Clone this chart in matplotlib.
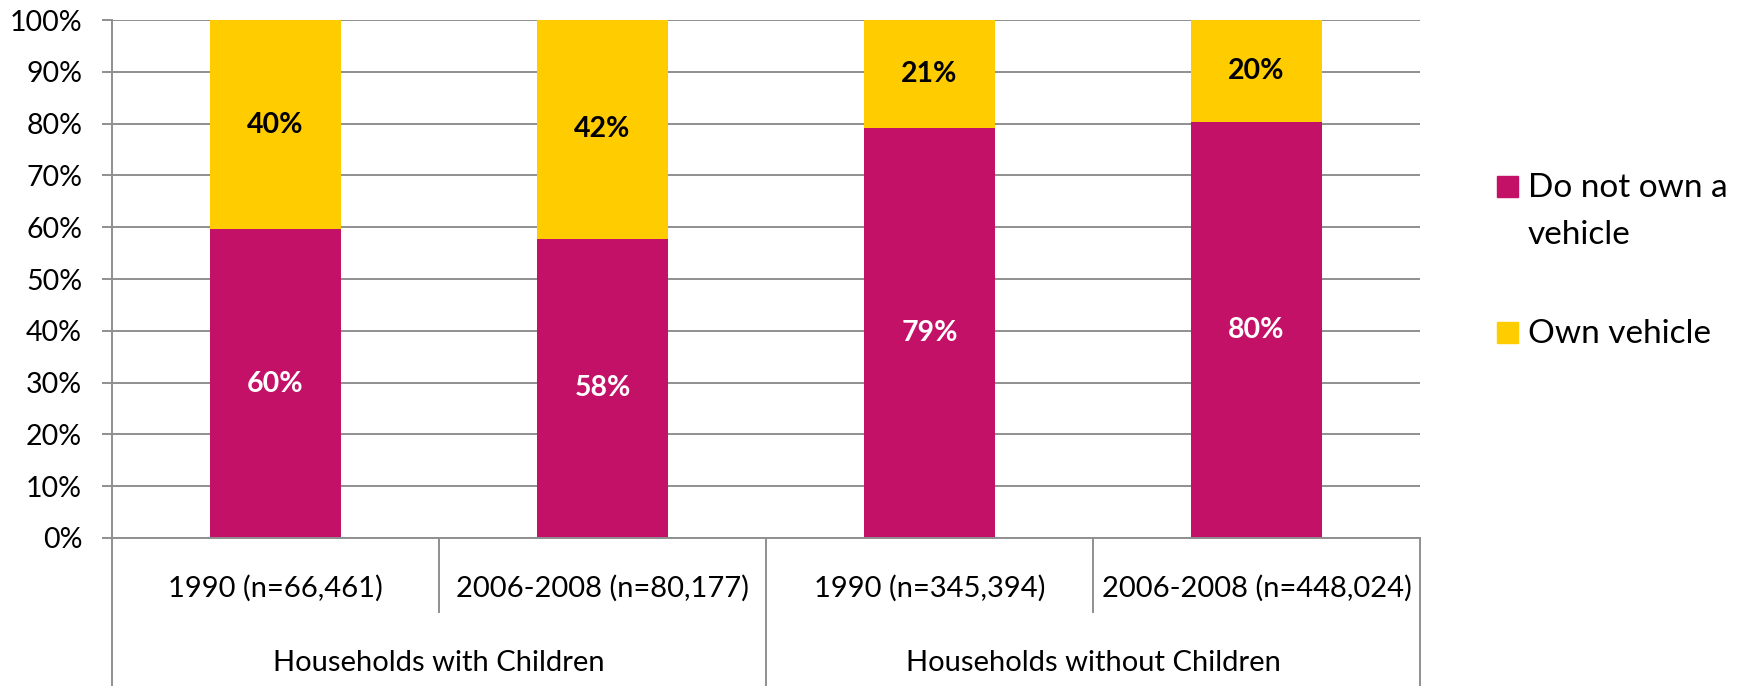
import matplotlib
matplotlib.use("Agg")
import matplotlib.pyplot as plt
import matplotlib.transforms as mtransforms
from matplotlib.patches import Rectangle

plt.rcParams['font.family'] = ['Lato', 'DejaVu Sans']

periods = ["1990 (n=66,461)", "2006-2008 (n=80,177)", "1990 (n=345,394)", "2006-2008 (n=448,024)"]
groups = ["Households with Children", "Households without Children"]
no_vehicle = [59.6, 57.8, 79.1, 80.4]
own_vehicle = [40.4, 42.2, 20.9, 19.6]
no_labels = ["60%", "58%", "79%", "80%"]
own_labels = ["40%", "42%", "21%", "20%"]
series_names = ["Do not own a\nvehicle", "Own vehicle"]

MAGENTA = "#C41168"
YELLOW = "#FFCC00"
GRID = "#8f8f8f"

W, H = 1746, 686
fig = plt.figure(figsize=(W / 100, H / 100), dpi=100)
ax_l, ax_r, ax_t, ax_b = 112, 1420, 20, 538
ax = fig.add_axes([ax_l / W, 1 - ax_b / H, (ax_r - ax_l) / W, (ax_b - ax_t) / H])

x = list(range(len(periods)))
b1 = ax.bar(x, no_vehicle, width=0.4, color=MAGENTA, zorder=3)
b2 = ax.bar(x, own_vehicle, width=0.4, bottom=no_vehicle, color=YELLOW, zorder=3)
ax.bar_label(b1, labels=no_labels, label_type='center', color='white',
             fontsize=20.5, fontweight='bold')
ax.bar_label(b2, labels=own_labels, label_type='center', color='black',
             fontsize=20.5, fontweight='bold')

ax.set_xlim(-0.5, 3.5)
ax.set_ylim(0, 100)
ax.set_yticks(range(0, 101, 10))
ax.set_yticklabels([f"{v}%" for v in range(0, 101, 10)], fontsize=20.5)
ax.yaxis.grid(True, color=GRID, linewidth=1.4, zorder=0)
ax.tick_params(axis='y', length=7.5, width=1.4, color=GRID, pad=14)
ax.set_xticks([])
for s in ['top', 'right', 'bottom']:
    ax.spines[s].set_visible(False)
ax.spines['left'].set_color(GRID)
ax.spines['left'].set_linewidth(1.4)
ax.axhline(0, color=GRID, linewidth=1.4, zorder=4, clip_on=False)

# multi-level category axis
trans = mtransforms.blended_transform_factory(ax.transData, ax.transAxes)
h = ax_b - ax_t
lvl1 = -(612 - ax_b) / h
lvl2 = -(H - ax_b) / h
for xb in [0.5, 2.5]:
    ax.plot([xb, xb], [0, lvl1], transform=trans, color=GRID, lw=1.4, clip_on=False)
for xb in [-0.5, 1.5, 3.5]:
    ax.plot([xb, xb], [0, lvl2 - 0.01], transform=trans, color=GRID, lw=1.4, clip_on=False)
for xi, lab in zip(x, periods):
    ax.text(xi, -(588 - ax_b) / h, lab, transform=trans, ha='center', va='center', fontsize=21)
for gi, g in enumerate(groups):
    ax.text(gi * 2 + 0.5, -(663 - ax_b) / h, g, transform=trans, ha='center', va='center', fontsize=21)

# legend
sq = 21
for (ytop, col, name, base) in [(176, MAGENTA, series_names[0], 197), (322, YELLOW, series_names[1], 343)]:
    fig.add_artist(Rectangle((1497 / W, 1 - (ytop + sq) / H), sq / W, sq / H,
                             transform=fig.transFigure, color=col))
    for i, line in enumerate(name.split("\n")):
        fig.text(1528 / W, 1 - (base + i * 47) / H, line, ha='left', va='baseline', fontsize=24)

fig.savefig("out.png", dpi=100)
